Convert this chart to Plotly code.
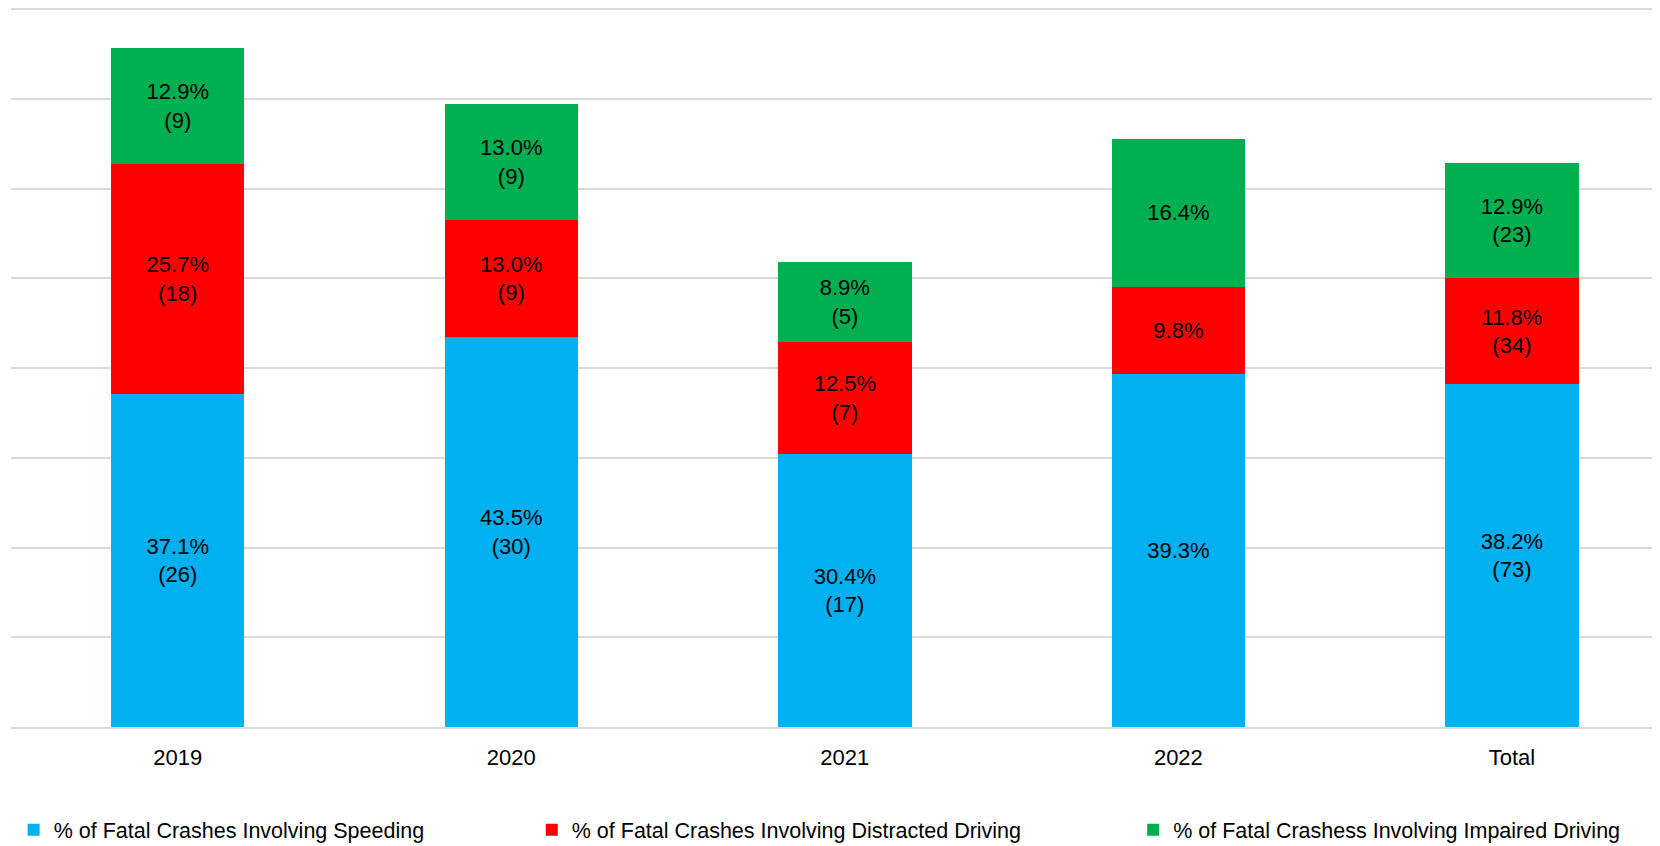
import plotly.graph_objects as go

categories = ["2019", "2020", "2021", "2022", "Total"]
speeding_pct = [37.1, 43.5, 30.4, 39.3, 38.2]
speeding_n = [26, 30, 17, None, 73]
distracted_pct = [25.7, 13.0, 12.5, 9.8, 11.8]
distracted_n = [18, 9, 7, None, 34]
impaired_pct = [12.9, 13.0, 8.9, 16.4, 12.9]
impaired_n = [9, 9, 5, None, 23]

series = [
    ("% of Fatal Crashes Involving Speeding", speeding_pct, speeding_n, "#00B0F0", "legend"),
    ("% of Fatal Crashes Involving Distracted Driving", distracted_pct, distracted_n, "#FF0000", "legend2"),
    ("% of Fatal Crashess Involving Impaired Driving", impaired_pct, impaired_n, "#00B050", "legend3"),
]

FONT = "Liberation Sans"
fig = go.Figure()
for name, pct, cnt, color, lg in series:
    texts = [f"{p:.1f}%" + (f"<br>({c})" if c is not None else "") for p, c in zip(pct, cnt)]
    fig.add_trace(go.Bar(
        x=categories, y=pct, name=name, marker=dict(color=color, line=dict(width=0)),
        text=texts, textposition="inside", insidetextanchor="middle", textangle=0,
        textfont=dict(family=FONT, size=22, color="black"),
        width=0.4, legend=lg, showlegend=True, hoverinfo="skip",
    ))

# page body has an 8px default margin; size the figure to fit the window
W, H = 1652, 838
ml, mr, mt, mb = 3, 0, 0, 119
LEG_Y = -0.143
fig.update_layout(
    width=W, height=H, barmode="stack", showlegend=True,
    margin=dict(l=ml, r=mr, t=mt, b=mb, autoexpand=False),
    plot_bgcolor="white", paper_bgcolor="white",
    font=dict(family=FONT, size=22, color="black"),
    xaxis=dict(range=[-0.5, 4.444], showgrid=False, showline=True, linecolor="#D9D9D9",
               linewidth=2, ticks="", tickfont=dict(size=22), ticklabelstandoff=10,
               automargin=False),
    yaxis=dict(range=[0, 80.15], dtick=10, showgrid=True, gridcolor="#D9D9D9", gridwidth=2,
               showticklabels=False, zeroline=False, showline=False, automargin=False),
    legend=dict(orientation="h", x=0.0016, y=LEG_Y, xanchor="left", yanchor="middle",
                font=dict(size=21.5), bgcolor="rgba(0,0,0,0)"),
    legend2=dict(orientation="h", x=0.3158, y=LEG_Y, xanchor="left", yanchor="middle",
                 font=dict(size=21.5), bgcolor="rgba(0,0,0,0)"),
    legend3=dict(orientation="h", x=0.6805, y=LEG_Y, xanchor="left", yanchor="middle",
                 font=dict(size=21.5), bgcolor="rgba(0,0,0,0)"),
)
fig.write_html("out.html")
